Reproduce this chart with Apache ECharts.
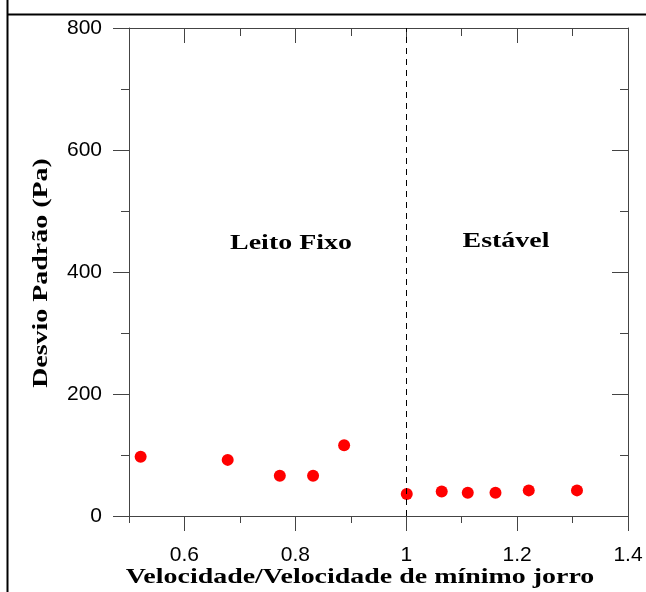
<!DOCTYPE html>
<html>
<head>
<meta charset="utf-8">
<script src="https://cdn.jsdelivr.net/npm/echarts@6/dist/echarts.min.js"></script>
<style>html,body{margin:0;padding:0;background:#fff;}#c{width:646px;height:592px;}</style>
</head>
<body>
<div id="c"></div>
<script>
const xValues = [0.521, 0.678, 0.772, 0.832, 0.888, 1.001, 1.064, 1.111, 1.161, 1.221, 1.308];
const yValues = [97, 92, 66, 66, 116, 36, 40, 38, 38, 42, 42];
const xMajorTicks = [0.6, 0.8, 1.0, 1.2, 1.4];
const yTicks = [0, 200, 400, 600, 800];
const boundaryX = 1.0;
const regionLabels = ['Leito Fixo', 'Estável'];
const xTitle = 'Velocidade/Velocidade de mínimo jorro';
const yTitle = 'Desvio Padrão (Pa)';

const axisColor = '#444';
const serif = '"Liberation Serif", "Times New Roman", serif';
const sans = '"Liberation Sans", Arial, sans-serif';
const stretch = 1.27;

const chart = echarts.init(document.getElementById('c'), null, {renderer: 'canvas'});

const xBase = {type: 'value', min: 0.5, max: 1.4, splitLine: {show: false}};
const titleStyle = text => ({text: text, font: 'bold 22px ' + serif, fill: '#000', textAlign: 'center', textVerticalAlign: 'middle'});
const option = {
  backgroundColor: '#fff',
  animation: false,
  grid: {left: 129, right: 18, top: 28, bottom: 76, containLabel: false, outerBoundsMode: 'none'},
  xAxis: [
    Object.assign({}, xBase, {
      position: 'bottom', interval: 0.1,
      axisLine: {show: true, lineStyle: {color: axisColor, width: 1}},
      axisTick: {show: true, inside: false, length: 7, lineStyle: {color: axisColor}},
      axisLabel: {show: false}
    }),
    Object.assign({}, xBase, {
      position: 'bottom',
      axisLine: {show: false},
      axisTick: {show: true, inside: false, length: 15, customValues: xMajorTicks, lineStyle: {color: axisColor}},
      axisLabel: {show: true, customValues: xMajorTicks, margin: 29, fontSize: 21, fontFamily: sans, color: '#000',
        formatter: v => String(+v.toFixed(1))}
    }),
    Object.assign({}, xBase, {
      position: 'top', interval: 0.1,
      axisLine: {show: true, lineStyle: {color: axisColor, width: 1}},
      axisTick: {show: true, inside: true, length: 8, lineStyle: {color: axisColor}},
      axisLabel: {show: false}
    }),
    Object.assign({}, xBase, {
      position: 'top',
      axisLine: {show: false},
      axisTick: {show: true, inside: true, length: 15, customValues: xMajorTicks, lineStyle: {color: axisColor}},
      axisLabel: {show: false}
    })
  ],
  yAxis: [
    {
      type: 'value', position: 'left', min: yTicks[0], max: yTicks[yTicks.length - 1], interval: 200,
      splitLine: {show: false},
      axisLine: {show: true, lineStyle: {color: axisColor, width: 1}},
      axisTick: {show: true, inside: false, length: 16, lineStyle: {color: axisColor}},
      minorTick: {show: true, splitNumber: 2, length: 8, lineStyle: {color: axisColor}},
      axisLabel: {show: true, margin: 27, fontSize: 21, fontFamily: sans, color: '#000'}
    },
    {
      type: 'value', position: 'right', min: yTicks[0], max: yTicks[yTicks.length - 1], interval: 200,
      splitLine: {show: false},
      axisLine: {show: true, lineStyle: {color: axisColor, width: 1}},
      axisTick: {show: true, inside: true, length: 16, lineStyle: {color: axisColor}},
      minorTick: {show: true, splitNumber: 2, length: 8, lineStyle: {color: axisColor}},
      axisLabel: {show: false}
    }
  ],
  series: [{
    type: 'scatter',
    xAxisIndex: 0, yAxisIndex: 0,
    symbol: 'circle', symbolSize: 12,
    itemStyle: {color: '#ff0000', opacity: 1},
    data: xValues.map((x, i) => [x, yValues[i]]),
    markLine: {
      silent: true, symbol: 'none',
      label: {show: false},
      lineStyle: {color: '#000', width: 1, type: [6, 5]},
      data: [{xAxis: boundaryX}]
    }
  }],
  graphic: [
    {type: 'line', shape: {x1: 7, y1: 14.5, x2: 646, y2: 14.5}, style: {stroke: '#000', lineWidth: 2}},
    {type: 'line', shape: {x1: 7.5, y1: 0, x2: 7.5, y2: 592}, style: {stroke: '#000', lineWidth: 2}},
    {type: 'text', x: 291, y: 243, scaleX: stretch, style: titleStyle(regionLabels[0])},
    {type: 'text', x: 506, y: 241, scaleX: stretch, style: titleStyle(regionLabels[1])},
    {type: 'text', x: 360, y: 577, scaleX: stretch, style: titleStyle(xTitle)},
    {type: 'text', x: 41, y: 273, scaleX: stretch, rotation: Math.PI / 2, style: titleStyle(yTitle)}
  ]
};
chart.setOption(option);
</script>
</body>
</html>
